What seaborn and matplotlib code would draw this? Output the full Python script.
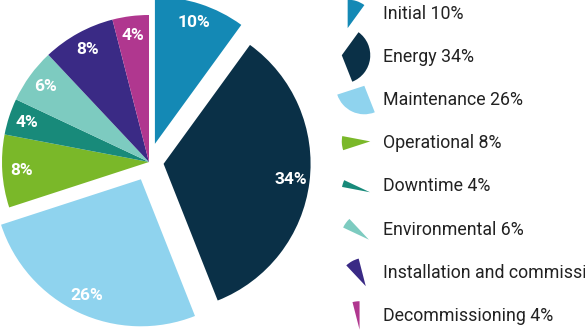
import numpy as np
import matplotlib
matplotlib.use("Agg")
import matplotlib.pyplot as plt
import seaborn as sns
from matplotlib.patches import Wedge
from matplotlib.legend_handler import HandlerPatch

sns.set_theme(style="white")
plt.rcParams['font.family'] = ['Roboto', 'DejaVu Sans']

categories = ["Initial", "Energy", "Maintenance", "Operational", "Downtime",
              "Environmental", "Installation and commissioning", "Decommissioning"]
values = [10, 34, 26, 8, 4, 6, 8, 4]
colors = ["#1489b5", "#0a3047", "#8fd3ee", "#7ab829", "#188a7a",
          "#7dcbc0", "#3a2a85", "#b0378f"]
explode = [0.13, 0.1, 0.13, 0, 0, 0, 0, 0]
legend_labels = [f"{c} {v}%" for c, v in zip(categories, values)]

W, H = 585, 330
fig = plt.figure(figsize=(W / 100, H / 100), dpi=100)
fig.patch.set_facecolor("white")

R = 147.0
cx, cy = 149.0, H - 162.0
ax = fig.add_axes([0, 0, 300 / W, 1])
wedges, texts, autotexts = ax.pie(
    values, colors=colors, explode=explode, startangle=90, counterclock=False,
    radius=1.0, autopct=lambda p: f"{p:.0f}%", pctdistance=0.87,
    wedgeprops=dict(linewidth=0),
    textprops=dict(color="white", fontsize=12.5, fontweight="bold"))
ax.set_aspect("auto")
ax.set_xlim(-cx / R, (300 - cx) / R)
ax.set_ylim(-cy / R, (H - cy) / R)
ax.axis("off")


class WedgeHandler(HandlerPatch):
    def create_artists(self, legend, orig_handle, xdescent, ydescent,
                       width, height, fontsize, trans):
        t1, t2 = orig_handle.theta1, orig_handle.theta2
        r = 20.5
        angs = [t1, t2] + [a for a in range(-360, 721, 90) if t1 <= a <= t2]
        xs = [0.0] + [r * np.cos(np.radians(a)) for a in angs]
        ys = [0.0] + [r * np.sin(np.radians(a)) for a in angs]
        bx = (min(xs) + max(xs)) / 2
        by = (min(ys) + max(ys)) / 2
        c0 = width / 2 - xdescent - bx
        c1 = height / 2 - ydescent - by
        p = Wedge((c0, c1), r, t1, t2, facecolor=orig_handle.get_facecolor(),
                  edgecolor="none", transform=trans)
        return [p]


fs = 12.8
leg = fig.legend(wedges, legend_labels, loc="upper left",
                 bbox_to_anchor=(337 / W, (H + 5) / H),
                 frameon=False, fontsize=fs, borderpad=0, borderaxespad=0,
                 handlelength=2.14, handleheight=2.89, handletextpad=0.45,
                 labelspacing=0.3,
                 handler_map={Wedge: WedgeHandler()})
for t in leg.get_texts():
    t.set_color("#222222")

fig.savefig("out.png", dpi=100)
